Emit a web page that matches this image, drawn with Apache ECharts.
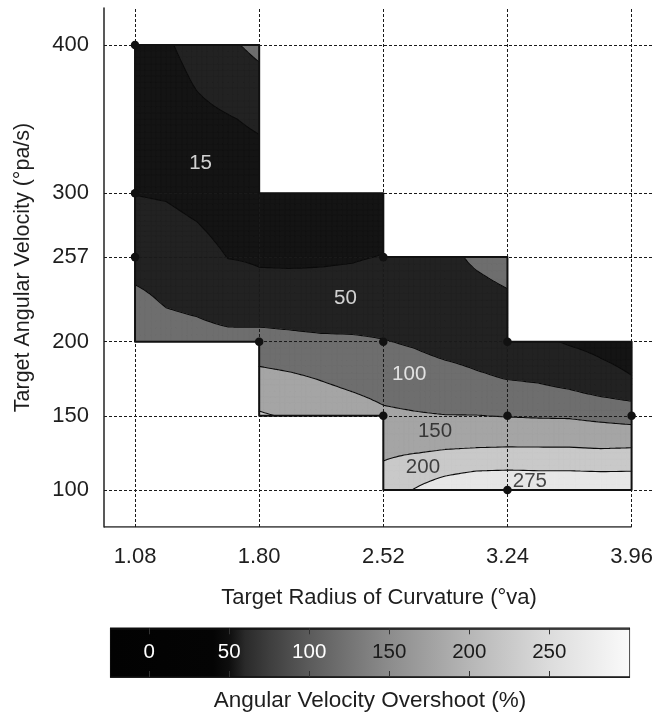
<!DOCTYPE html>
<html>
<head>
<meta charset="utf-8">
<script src="https://cdn.jsdelivr.net/npm/echarts@6/dist/echarts.min.js"></script>
<style>
  html, body { margin: 0; padding: 0; background: #fff; }
  #chart { width: 656px; height: 713px; }
</style>
</head>
<body>
<div id="chart"></div>
<script>
// ---- Sampling grid: target radius of curvature (°va) x target angular velocity (°pa/s)
const radiusCols = [1.08, 1.26, 1.44, 1.62, 1.80, 1.98, 2.16, 2.34, 2.52, 2.70, 2.88, 3.06, 3.24, 3.42, 3.60, 3.78, 3.96];
const velocityRows = [100, 125, 150, 175, 200, 228, 257, 278, 300, 325, 350, 375, 400];

// Angular velocity overshoot (%) per velocity row, one value per radius column (null = not tested)
const _ = null;
const overshoot100 = [_, _, _, _, _, _, _, _, 235, 278, 317, 345, 350, 345, 345, 340, 340];
const overshoot125 = [_, _, _, _, _, _, _, _, 190, 199, 205, 208, 210, 210, 210, 208, 211];
const overshoot150 = [_, _, _, _, 205, 195, 182, 172, 158, 154, 151, 151, 148, 146, 145, 138, 131];
const overshoot175 = [_, _, _, _, 165, 158, 148, 138, 130, 123, 116, 106, 99, 94, 82, 65, 52];
const overshoot200 = [130, 118, 115, 112, 120, 114, 110, 108, 102, 95, 84, 80, 72, 58, 46, 38, 30];
const overshoot228 = [110, 96, 90, 78, 63, 64, 60, 62, 68, 72, 78, 82, 92, _, _, _, _];
const overshoot257 = [82, 78, 68, 49, 46, 45, 47, 48, 51, 60, 88, 108, 122, _, _, _, _];
const overshoot278 = [66, 62, 52, 36, 36, 32, 33, 36, 42, _, _, _, _, _, _, _, _];
const overshoot300 = [49, 46, 36, 30, 32, 30, 30, 32, 36, _, _, _, _, _, _, _, _];
const overshoot325 = [25, 22, 26, 34, 40, _, _, _, _, _, _, _, _, _, _, _, _];
const overshoot350 = [15, 22, 38, 47, 57, _, _, _, _, _, _, _, _, _, _, _, _];
const overshoot375 = [18, 32, 54, 70, 86, _, _, _, _, _, _, _, _, _, _, _, _];
const overshoot400 = [20, 44, 68, 92, 112, _, _, _, _, _, _, _, _, _, _, _, _];
const overshootRows = [overshoot100, overshoot125, overshoot150, overshoot175, overshoot200, overshoot228,
  overshoot257, overshoot278, overshoot300, overshoot325, overshoot350, overshoot375, overshoot400];

// Contour levels: band k covers [level k, level k+1)
const contourLevels = [15, 50, 100, 150, 200, 275];
const bandColors = ['#141414', '#222222', '#6e6e6e', '#a5a5a5', '#c9c9c9', '#e6e6e6'];

// Where each level's value is written inside its band
const levelLabelRadius = [1.46, 2.30, 2.67, 2.82, 2.75, 3.37];
const levelLabelVelocity = [320.5, 229, 177.8, 139.4, 115.2, 105.7];

// Tested conditions
const testedRadius = [1.08, 1.08, 1.08, 2.52, 1.80, 2.52, 3.24, 2.52, 3.24, 3.96, 3.24];
const testedVelocity = [400, 300, 257, 257, 200, 200, 200, 150, 150, 150, 100];

// Tested region, as blocks between radius edges
const blockEdges = [1.08, 1.80, 2.52, 3.24, 3.96];
const blockTop = [400, 300, 257, 200];
const blockBottom = [200, 150, 100, 100];

// Axis ticks
const radiusTicks = [1.08, 1.80, 2.52, 3.24, 3.96];
const velocityTicks = [100, 150, 200, 257, 300, 400];
const radiusRange = [0.9, 4.09];
const velocityRange = [75, 425];

// Colour scale
const scaleRange = [-24, 300];
const scaleStopValues = [-24, 40, 50, 60, 75, 100, 128, 150, 200, 250, 300];
const scaleStopGray = [2, 4, 14, 42, 62, 91, 119, 140, 182, 220, 250];
const scaleTicks = [0, 50, 100, 150, 200, 250];

const FONT = "'Liberation Sans', Arial, Helvetica, sans-serif";

// ---- geometry helpers
let triCache = null, triKey = '';
function getTriangles(api) {
  const a = api.coord([radiusCols[0], velocityRows[0]]);
  const b = api.coord([radiusCols[radiusCols.length - 1], velocityRows[velocityRows.length - 1]]);
  const key = a.join(',') + ';' + b.join(',');
  if (triCache && key === triKey) return triCache;
  const S = 6;
  const tris = [];
  for (let r = 0; r < velocityRows.length - 1; r++) {
    const lo = overshootRows[r], hi = overshootRows[r + 1];
    for (let c = 0; c < radiusCols.length - 1; c++) {
      const v00 = lo[c], v10 = lo[c + 1], v01 = hi[c], v11 = hi[c + 1];
      if (v00 == null || v10 == null || v01 == null || v11 == null) continue;
      const p0 = api.coord([radiusCols[c], velocityRows[r]]);
      const p1 = api.coord([radiusCols[c + 1], velocityRows[r + 1]]);
      const pt = (s, t) => [
        p0[0] + (p1[0] - p0[0]) * s,
        p0[1] + (p1[1] - p0[1]) * t,
        (1 - s) * (1 - t) * v00 + s * (1 - t) * v10 + (1 - s) * t * v01 + s * t * v11
      ];
      for (let i = 0; i < S; i++) {
        for (let j = 0; j < S; j++) {
          const q00 = pt(i / S, j / S), q10 = pt((i + 1) / S, j / S);
          const q01 = pt(i / S, (j + 1) / S), q11 = pt((i + 1) / S, (j + 1) / S);
          tris.push([q00, q10, q11], [q00, q11, q01]);
        }
      }
    }
  }
  triCache = tris; triKey = key;
  return tris;
}

function clipPoly(poly, t, keepAbove) {
  const out = [];
  for (let k = 0; k < poly.length; k++) {
    const a = poly[k], b = poly[(k + 1) % poly.length];
    const ina = keepAbove ? a[2] >= t : a[2] < t;
    const inb = keepAbove ? b[2] >= t : b[2] < t;
    if (ina) out.push(a);
    if (ina !== inb) {
      const f = (t - a[2]) / (b[2] - a[2]);
      out.push([a[0] + f * (b[0] - a[0]), a[1] + f * (b[1] - a[1]), t]);
    }
  }
  return out;
}

function bandPath(tris, lo, hi) {
  let d = '';
  for (const tri of tris) {
    let poly = tri;
    if (lo != null) poly = clipPoly(poly, lo, true);
    if (poly.length < 3) continue;
    if (hi != null) poly = clipPoly(poly, hi, false);
    if (poly.length < 3) continue;
    d += 'M' + poly.map(p => p[0].toFixed(2) + ' ' + p[1].toFixed(2)).join('L') + 'Z';
  }
  return d;
}

function levelPath(tris, level) {
  let d = '';
  for (const tri of tris) {
    const pts = [];
    for (let k = 0; k < 3; k++) {
      const a = tri[k], b = tri[(k + 1) % 3];
      if ((a[2] < level) !== (b[2] < level)) {
        const f = (level - a[2]) / (b[2] - a[2]);
        pts.push([a[0] + f * (b[0] - a[0]), a[1] + f * (b[1] - a[1])]);
      }
    }
    if (pts.length === 2) {
      d += 'M' + pts[0][0].toFixed(2) + ' ' + pts[0][1].toFixed(2) +
           'L' + pts[1][0].toFixed(2) + ' ' + pts[1][1].toFixed(2);
    }
  }
  return d;
}

// Outline of the tested region
const regionOutline = [];
for (let k = 0; k < blockTop.length; k++) {
  regionOutline.push([blockEdges[k], blockTop[k]], [blockEdges[k + 1], blockTop[k]]);
}
for (let k = blockBottom.length - 1; k >= 0; k--) {
  regionOutline.push([blockEdges[k + 1], blockBottom[k]], [blockEdges[k], blockBottom[k]]);
}
regionOutline.push(regionOutline[0]);

function grayHex(g) {
  const h = Math.round(g).toString(16).padStart(2, '0');
  return '#' + h + h + h;
}
function bandIsDark(k) {
  return parseInt(bandColors[k].slice(1, 3), 16) < 128;
}
function scaleGrayAt(v) {
  for (let i = 0; i < scaleStopValues.length - 1; i++) {
    if (v <= scaleStopValues[i + 1]) {
      const f = (v - scaleStopValues[i]) / (scaleStopValues[i + 1] - scaleStopValues[i]);
      return scaleStopGray[i] + f * (scaleStopGray[i + 1] - scaleStopGray[i]);
    }
  }
  return scaleStopGray[scaleStopGray.length - 1];
}

const chart = echarts.init(document.getElementById('chart'), null, { renderer: 'canvas' });

const gridLineStyle = { type: [3, 2], color: '#1a1a1a', width: 1 };

chart.setOption({
  animation: false,
  textStyle: { fontFamily: FONT },
  grid: [
    { left: 104, top: 8, width: 551, height: 519 },
    { left: 110.7, top: 628.3, width: 518.6, height: 49, show: true, borderColor: '#111', borderWidth: 1.5, backgroundColor: 'transparent', z: 0 }
  ],
  xAxis: [
    {
      gridIndex: 0, type: 'value', min: radiusRange[0], max: radiusRange[1],
      axisLine: { show: false }, axisTick: { show: false }, splitLine: { show: false },
      axisLabel: {
        customValues: radiusTicks, formatter: v => v.toFixed(2),
        fontSize: 22, color: '#1e1e1e', margin: 19, fontFamily: FONT
      },
      name: 'Target Radius of Curvature (°va)', nameLocation: 'middle', nameGap: 60,
      nameTextStyle: { fontSize: 22, color: '#1e1e1e', fontFamily: FONT }
    },
    {
      gridIndex: 1, type: 'value', min: scaleRange[0], max: scaleRange[1], position: 'bottom', z: 10,
      axisLine: { show: true, lineStyle: { color: '#111', width: 1.5 } },
      axisTick: { show: true, inside: true, length: 6, customValues: scaleTicks, lineStyle: { color: '#333', width: 1 } },
      axisLabel: {
        customValues: scaleTicks, inside: true, margin: 24.5, verticalAlign: 'middle',
        fontSize: 20.5, fontFamily: FONT,
        color: v => (scaleGrayAt(v) < 120 ? '#ffffff' : '#1a1a1a')
      },
      splitLine: { show: false },
      name: 'Angular Velocity Overshoot (%)', nameLocation: 'middle', nameGap: 12,
      nameTextStyle: { fontSize: 22.5, color: '#1e1e1e', fontFamily: FONT, verticalAlign: 'top' }
    },
    {
      gridIndex: 1, type: 'value', min: scaleRange[0], max: scaleRange[1], position: 'top', z: 10,
      axisLine: { show: true, lineStyle: { color: '#111', width: 1.5 } },
      axisTick: { show: true, inside: true, length: 6, customValues: scaleTicks, lineStyle: { color: '#333', width: 1 } },
      axisLabel: { show: false }, splitLine: { show: false }
    }
  ],
  yAxis: [
    {
      gridIndex: 0, type: 'value', min: velocityRange[0], max: velocityRange[1],
      axisLine: { show: true, lineStyle: { color: '#222', width: 1.5 } },
      axisTick: { show: false }, splitLine: { show: false },
      axisLabel: { customValues: velocityTicks, fontSize: 22, color: '#1e1e1e', margin: 15, fontFamily: FONT },
      name: 'Target Angular Velocity (°pa/s)', nameLocation: 'middle', nameGap: 70, nameRotate: 90,
      nameTextStyle: { fontSize: 21.5, color: '#1e1e1e', fontFamily: FONT }
    },
    { gridIndex: 1, type: 'value', min: 0, max: 1, show: false }
  ],
  series: [
    // bottom axis line with the dotted reference grid
    {
      type: 'line', xAxisIndex: 0, yAxisIndex: 0, z: 1, silent: true,
      data: [[radiusRange[0], velocityRange[0]], [radiusTicks[radiusTicks.length - 1], velocityRange[0]]],
      symbol: 'none', lineStyle: { color: '#222', width: 1.5 },
      markLine: {
        silent: true, symbol: ['none', 'none'], label: { show: false }, animation: false,
        lineStyle: gridLineStyle, emphasis: { disabled: true },
        data: radiusTicks.map(v => ({ xAxis: v })).concat(velocityTicks.map(v => ({ yAxis: v })))
      }
    },
    // filled bands
    {
      type: 'custom', xAxisIndex: 0, yAxisIndex: 0, z: 3, silent: true, clip: false,
      data: contourLevels.map((lv, k) => [radiusCols[0], velocityRows[0], k]),
      encode: { x: 0, y: 1 },
      renderItem: (params, api) => {
        const k = api.value(2);
        const tris = getTriangles(api);
        const lo = k === 0 ? null : contourLevels[k];
        const hi = k === contourLevels.length - 1 ? null : contourLevels[k + 1];
        const d = bandPath(tris, lo, hi);
        if (!d) return { type: 'group', children: [] };
        return {
          type: 'path', shape: { pathData: d },
          style: { fill: bandColors[k], stroke: bandColors[k], lineWidth: 0.7 }
        };
      }
    },
    // contour lines
    {
      type: 'custom', xAxisIndex: 0, yAxisIndex: 0, z: 4, silent: true, clip: false,
      data: contourLevels.slice(1).map(lv => [radiusCols[0], velocityRows[0], lv]),
      encode: { x: 0, y: 1 },
      renderItem: (params, api) => {
        const d = levelPath(getTriangles(api), api.value(2));
        if (!d) return { type: 'group', children: [] };
        return {
          type: 'path', shape: { pathData: d },
          style: { fill: null, stroke: '#0a0a0a', lineWidth: 1.1, lineCap: 'round', lineJoin: 'round' }
        };
      }
    },
    // outline of tested region
    {
      type: 'line', xAxisIndex: 0, yAxisIndex: 0, z: 5, silent: true,
      data: regionOutline, symbol: 'none',
      lineStyle: { color: '#111', width: 2, join: 'round' }
    },
    // tested conditions
    {
      type: 'scatter', xAxisIndex: 0, yAxisIndex: 0, z: 6, silent: true,
      data: testedRadius.map((x, i) => [x, testedVelocity[i]]),
      symbolSize: 8.5, itemStyle: { color: '#111', opacity: 1 }
    },
    // level labels
    {
      type: 'scatter', xAxisIndex: 0, yAxisIndex: 0, z: 7, silent: true, symbolSize: 0,
      data: contourLevels.map((lv, k) => ({
        value: [levelLabelRadius[k], levelLabelVelocity[k], lv],
        label: { color: bandIsDark(k) ? '#ffffff' : '#1a1a1a' }
      })),
      label: {
        show: true, position: 'inside', formatter: p => String(p.value[2]),
        fontSize: 20.5, fontFamily: FONT
      }
    },
    // colour scale
    {
      type: 'custom', xAxisIndex: 1, yAxisIndex: 1, z: 2, silent: true, clip: false,
      data: [[scaleRange[0], 0]],
      encode: { x: 0, y: 1 },
      renderItem: (params, api) => {
        const p0 = api.coord([scaleRange[0], 0]);
        const p1 = api.coord([scaleRange[1], 1]);
        const span = scaleRange[1] - scaleRange[0];
        const stops = scaleStopValues.map((v, i) => ({
          offset: (v - scaleRange[0]) / span, color: grayHex(scaleStopGray[i])
        }));
        return {
          type: 'rect',
          shape: { x: p0[0], y: p1[1], width: p1[0] - p0[0], height: p0[1] - p1[1] },
          style: { fill: new echarts.graphic.LinearGradient(0, 0, 1, 0, stops) }
        };
      }
    }
  ]
});
</script>
</body>
</html>
